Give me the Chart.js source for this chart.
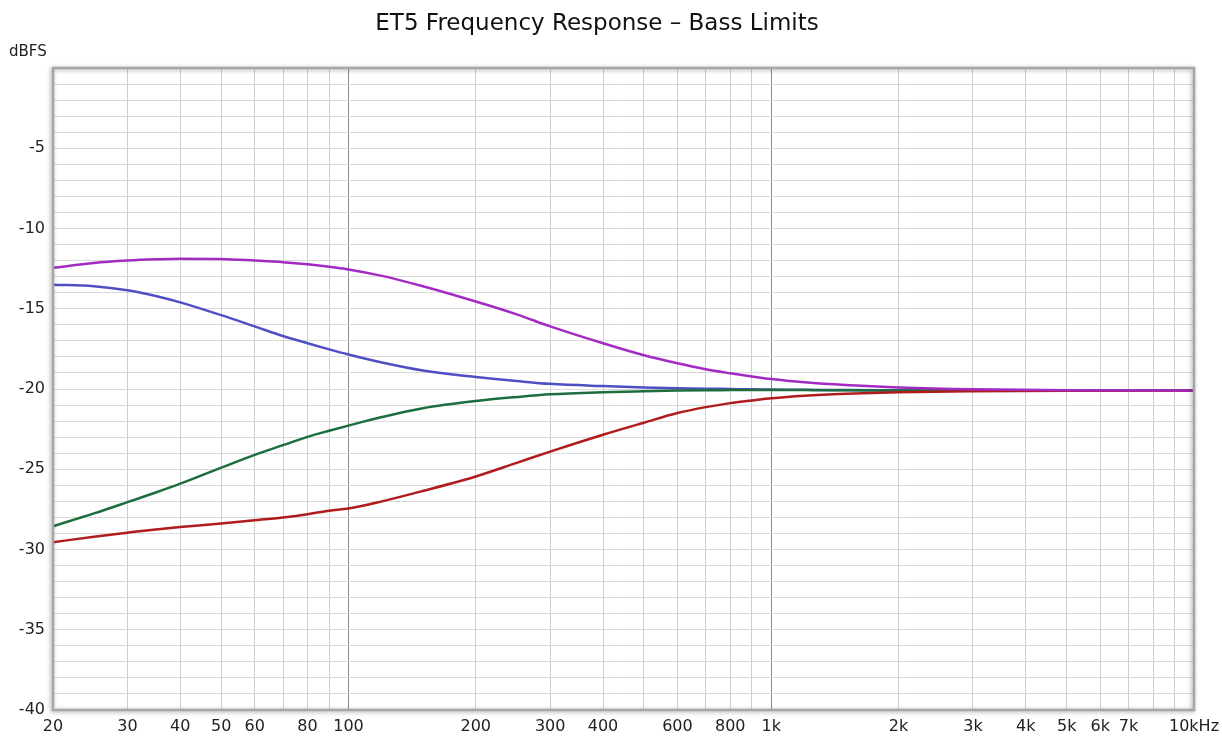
<!DOCTYPE html>
<html>
<head>
<meta charset="utf-8">
<script src="https://cdn.jsdelivr.net/npm/chart.js@4.4.1/dist/chart.umd.min.js"></script>
<style>
  html, body { margin: 0; padding: 0; background: #fff; }
  #wrap { width: 1222px; height: 736px; }
</style>
</head>
<body>
<div id="wrap"><canvas id="chart" width="1222" height="736"></canvas></div>
<script>
// frecuencias (Hz) y curvas
const freqs = [20, 25, 30, 35, 40, 50, 60, 70, 80, 90, 100, 120, 150, 200, 250, 300, 400, 500, 600, 700, 800, 900, 1000, 1200, 1500, 2000, 3000, 5000, 10000];

const bassMax = [-12.45, -12.15, -12.0, -11.92, -11.88, -11.9, -12.0, -12.1, -12.23, -12.38, -12.55, -12.95, -13.6, -14.55, -15.35, -16.1, -17.15, -17.9, -18.4, -18.77, -19.02, -19.22, -19.38, -19.58, -19.75, -19.9, -20.02, -20.08, -20.1];
const bassPlus = [-13.5, -13.6, -13.85, -14.2, -14.6, -15.4, -16.1, -16.7, -17.15, -17.53, -17.85, -18.35, -18.85, -19.25, -19.5, -19.68, -19.82, -19.9, -19.95, -19.98, -20.0, -20.02, -20.03, -20.05, -20.07, -20.08, -20.1, -20.1, -20.1];
const bassMinus = [-28.55, -27.75, -27.05, -26.45, -25.9, -24.9, -24.1, -23.5, -22.98, -22.6, -22.28, -21.75, -21.2, -20.75, -20.5, -20.33, -20.2, -20.14, -20.1, -20.08, -20.07, -20.06, -20.06, -20.07, -20.08, -20.09, -20.1, -20.1, -20.1];
const bassMin = [-29.55, -29.2, -28.95, -28.75, -28.6, -28.38, -28.18, -28.0, -27.8, -27.58, -27.45, -27.0, -26.35, -25.45, -24.6, -23.9, -22.85, -22.1, -21.5, -21.13, -20.88, -20.72, -20.58, -20.42, -20.3, -20.2, -20.14, -20.11, -20.1];

// rejilla y etiquetas del eje x
const gridFreqs = [20, 30, 40, 50, 60, 70, 80, 90, 100, 200, 300, 400, 500, 600, 700, 800, 900, 1000, 2000, 3000, 4000, 5000, 6000, 7000, 8000, 9000, 10000];
const xLabels = {20: "20", 30: "30", 40: "40", 50: "50", 60: "60", 80: "80", 100: "100", 200: "200", 300: "300", 400: "400", 600: "600", 800: "800", 1000: "1k", 2000: "2k", 3000: "3k", 4000: "4k", 5000: "5k", 6000: "6k", 7000: "7k", 10000: "10kHz"};
const yLabels = [-5, -10, -15, -20, -25, -30, -35, -40];

const toPoints = (vals) => freqs.map((f, i) => ({ x: f, y: vals[i] }));

const makeSet = (label, vals, color) => ({
    label: label,
    data: toPoints(vals),
    borderColor: color,
    borderWidth: 2.5,
    pointRadius: 0,
    cubicInterpolationMode: 'monotone',
    fill: false
});

// marco gris con sombra + texto dBFS
const framePlugin = {
    id: 'frame',
    afterDraw(chart) {
        const c = chart.ctx;
        const a = chart.chartArea;
        c.save();
        c.shadowColor = 'rgba(0,0,0,0.35)';
        c.shadowBlur = 4;
        c.shadowOffsetX = -1;
        c.shadowOffsetY = 1;
        c.strokeStyle = '#a6a6a6';
        c.lineWidth = 2.5;
        c.strokeRect(a.left, a.top, a.right - a.left, a.bottom - a.top);
        c.restore();
        c.save();
        c.fillStyle = '#222';
        c.font = '15px "DejaVu Sans"';
        c.textBaseline = 'middle';
        c.fillText('dBFS', 9, 52);
        c.restore();
    }
};

const config = {
    type: 'line',
    data: {
        datasets: [
            makeSet('Bass Max', bassMax, '#a32bc4'),
            makeSet('Bass Min', bassMin, '#b01c1c'),
            makeSet('Bass -', bassMinus, '#1d6e3e'),
            makeSet('Bass +', bassPlus, '#4f4fc4')
        ]
    },
    options: {
        responsive: false,
        animation: false,
        layout: { padding: { left: 0, right: 28, top: 0, bottom: 0 } },
        plugins: {
            legend: { display: false },
            tooltip: { enabled: false },
            title: {
                display: true,
                text: 'ET5 Frequency Response – Bass Limits',
                color: '#111',
                font: { family: 'DejaVu Sans', size: 23, weight: 'normal', lineHeight: 1.2 },
                padding: { top: 10, bottom: 30.4 }
            }
        },
        scales: {
            x: {
                type: 'logarithmic',
                min: 20,
                max: 10000,
                afterBuildTicks: (scale) => {
                    scale.ticks = gridFreqs.map(v => ({ value: v }));
                },
                afterFit: (scale) => {
                    scale.height = 26;
                    scale.paddingLeft = 0;
                    scale.paddingRight = 0;
                },
                border: { display: false },
                grid: {
                    drawTicks: false,
                    color: (ctx) => (ctx.tick && (ctx.tick.value === 100 || ctx.tick.value === 1000)) ? '#888888' : '#cfcfcf',
                    lineWidth: 1
                },
                ticks: {
                    autoSkip: false,
                    maxRotation: 0,
                    padding: 7,
                    color: '#222',
                    font: { family: 'DejaVu Sans', size: 16 },
                    callback: (value) => xLabels[value] || ''
                }
            },
            y: {
                min: -40,
                max: 0,
                afterFit: (scale) => {
                    scale.width = 53;
                    scale.paddingTop = 0;
                    scale.paddingBottom = 0;
                },
                border: { display: false },
                grid: { drawTicks: false, color: '#dadada', lineWidth: 1 },
                ticks: {
                    stepSize: 1,
                    autoSkip: false,
                    padding: 8,
                    color: '#222',
                    font: { family: 'DejaVu Sans', size: 16 },
                    callback: (value) => yLabels.includes(value) ? String(value) : ''
                }
            }
        }
    },
    plugins: [framePlugin]
};

const chart = new Chart(document.getElementById('chart').getContext('2d'), config);
</script>
</body>
</html>
